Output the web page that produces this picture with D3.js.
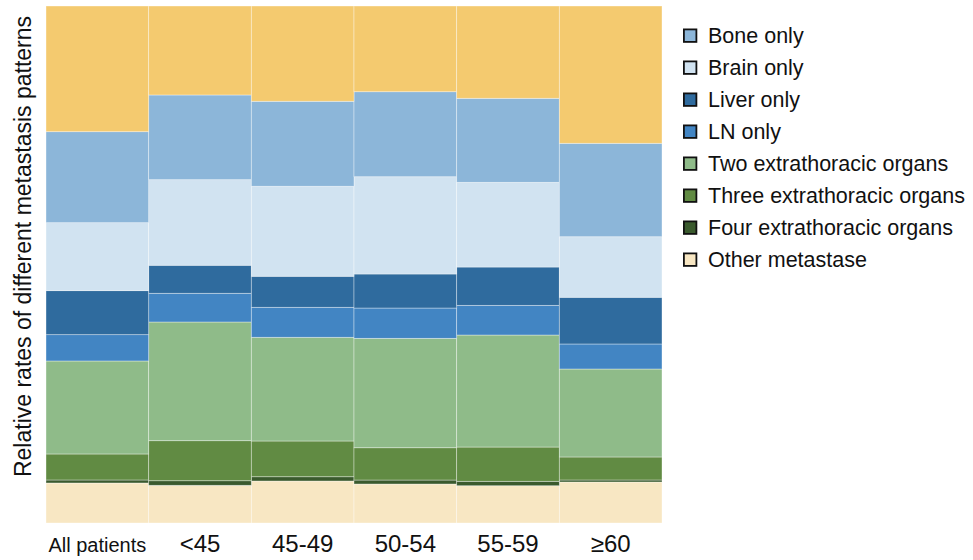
<!DOCTYPE html>
<html>
<head>
<meta charset="utf-8">
<script src="https://cdn.jsdelivr.net/npm/d3@7"></script>
<style>
  html, body { margin: 0; padding: 0; background: #fff; }
  svg { display: block; font-family: "Liberation Sans", Arial, sans-serif; }
</style>
</head>
<body>
<svg id="chart" width="973" height="560"></svg>
<script>
// ---- Data (percent of patients per metastasis pattern) ----
const categories = ["All patients", "<45", "45-49", "50-54", "55-59", "\u226560"];
const seriesNames = ["Other metastase", "Four extrathoracic organs", "Three extrathoracic organs",
  "Two extrathoracic organs", "LN only", "Liver only", "Brain only", "Bone only", "Lung only"];
const otherMet   = [7.74, 7.29, 8.12, 7.54, 7.21, 7.93];
const fourOrg    = [0.58, 0.89, 0.83, 0.77, 0.85, 0.39];
const threeOrg   = [5.03, 7.74, 6.91, 6.25, 6.63, 4.45];
const twoOrg     = [17.99, 22.96, 20.06, 21.16, 21.66, 17.02];
const lnOnly     = [5.09, 5.55, 5.80, 5.86, 5.74, 4.84];
const liverOnly  = [8.51, 5.42, 6.00, 6.58, 7.41, 9.03];
const brainOnly  = [13.15, 16.56, 17.41, 18.82, 16.38, 11.72];
const boneOnly   = [17.60, 16.38, 16.44, 16.44, 16.25, 18.07];
const lungOnly   = [24.31, 17.21, 18.43, 16.58, 17.85, 26.56];
const legendNames = ["Bone only", "Brain only", "Liver only", "LN only", "Two extrathoracic organs",
  "Three extrathoracic organs", "Four extrathoracic organs", "Other metastase"];

const seriesValues = [otherMet, fourOrg, threeOrg, twoOrg, lnOnly, liverOnly, brainOnly, boneOnly, lungOnly];
const colors = {
  "Other metastase": "#F8E7C3",
  "Four extrathoracic organs": "#3A5A2D",
  "Three extrathoracic organs": "#618B43",
  "Two extrathoracic organs": "#8FBB89",
  "LN only": "#4285C3",
  "Liver only": "#2F6B9E",
  "Brain only": "#D1E3F1",
  "Bone only": "#8CB6D9",
  "Lung only": "#F4CA6F"
};

// table for d3.stack
const table = categories.map((c, i) => {
  const row = { category: c };
  seriesNames.forEach((s, j) => { row[s] = seriesValues[j][i]; });
  return row;
});

const svg = d3.select("#chart");
const margin = { left: 46, top: 6, right: 311, bottom: 37 };
const W = 973, H = 560;

const x = d3.scaleBand().domain(categories).range([margin.left, W - margin.right]).padding(0);
const y = d3.scaleLinear().domain([0, 100]).range([H - margin.bottom, margin.top]);

const stack = d3.stack().keys(seriesNames).offset(d3.stackOffsetExpand);
const stacked = stack(table);

svg.append("g").selectAll("g")
  .data(stacked)
  .join("g")
  .attr("fill", d => colors[d.key])
  .selectAll("rect")
  .data(d => d)
  .join("rect")
  .attr("x", d => x(d.data.category))
  .attr("width", x.bandwidth())
  .attr("y", d => y(d[1] * 100))
  .attr("height", d => y(d[0] * 100) - y(d[1] * 100))
  .attr("stroke", "rgba(255,255,255,0.45)")
  .attr("stroke-width", 0.8);

// x axis labels (no line / ticks)
const xAxis = d3.axisBottom(x).tickSize(0).tickPadding(0);
const gx = svg.append("g").attr("transform", `translate(0,${H - margin.bottom})`).call(xAxis);
gx.select(".domain").remove();
gx.selectAll("text")
  .attr("fill", "#111")
  .attr("dy", null)
  .attr("y", 28.5)
  .style("font-family", "'Liberation Sans', Arial, sans-serif")
  .style("font-size", d => d === "All patients" ? "20px" : "24px");

// y axis title
svg.append("text")
  .attr("transform", `translate(31,${(margin.top + H - margin.bottom) / 2 - 18}) rotate(-90)`)
  .attr("text-anchor", "middle")
  .attr("fill", "#111")
  .style("font-size", "23px")
  .text("Relative rates of different metastasis patterns");

// legend
const lg = svg.append("g").attr("transform", "translate(683,43)");
const items = lg.selectAll("g").data(legendNames).join("g")
  .attr("transform", (d, i) => `translate(0,${i * 32})`);
items.append("rect")
  .attr("x", 0.9).attr("y", -13.6)
  .attr("width", 12.5).attr("height", 12.5)
  .attr("fill", d => colors[d])
  .attr("stroke", "#111").attr("stroke-width", 1.8);
items.append("text")
  .attr("x", 25).attr("y", 0)
  .attr("fill", "#111")
  .style("font-size", "21.5px")
  .text(d => d);
</script>
</body>
</html>
